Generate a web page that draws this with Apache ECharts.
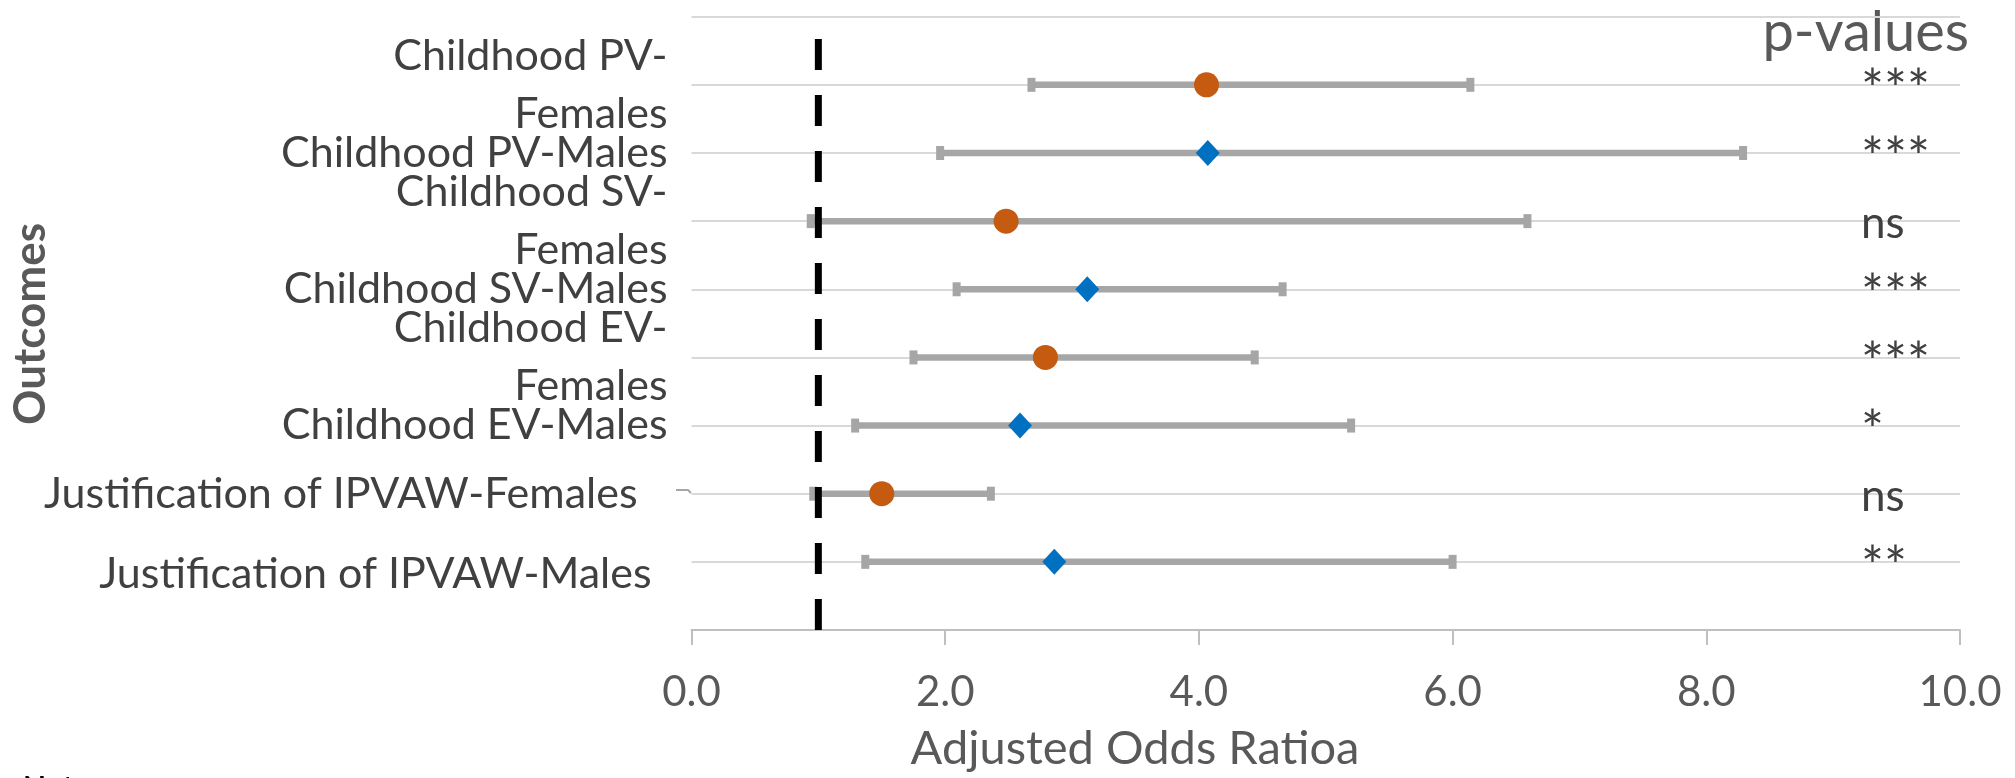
<!DOCTYPE html>
<html><head><meta charset="utf-8">
<script src="https://cdn.jsdelivr.net/npm/echarts@6/dist/echarts.min.js"></script>
<style>html,body{margin:0;padding:0;background:#fff}#c{width:2015px;height:778px}</style>
</head><body><div id="c"></div>
<script>
// ---- data ----
const categories = [
  'Childhood PV-\nFemales',
  'Childhood PV-Males',
  'Childhood SV-\nFemales',
  'Childhood SV-Males',
  'Childhood EV-\nFemales',
  'Childhood EV-Males',
  'Justification of IPVAW-Females',
  'Justification of IPVAW-Males'
];
const rowPositions = [8, 7, 6, 5, 4, 3, 2, 1];
const groups = ['Females', 'Males', 'Females', 'Males', 'Females', 'Males', 'Females', 'Males'];
const oddsRatios = [4.06, 4.07, 2.48, 3.12, 2.79, 2.59, 1.50, 2.86];
const ciLower   = [2.68, 1.96, 0.94, 2.09, 1.75, 1.29, 0.96, 1.37];
const ciUpper   = [6.14, 8.29, 6.59, 4.66, 4.44, 5.20, 2.36, 6.00];
const pValueLabels = ['***', '***', 'ns', '***', '***', '*', 'ns', '**'];
const referenceOR = 1;
const referenceSpan = [0, 9];
const pLabelX = 9.22;

// ---- styles ----
const FONT = 'Lato';
const orange = '#C55A11', blue = '#0070C0', barGray = '#A6A6A6';

const errData = categories.map((c, i) => [ciLower[i], ciUpper[i], rowPositions[i]]);
const femaleData = [], maleData = [];
categories.forEach((c, i) => {
  (groups[i] === 'Females' ? femaleData : maleData).push([oddsRatios[i], rowPositions[i]]);
});
const pData = pValueLabels.map((t, i) => [pLabelX, rowPositions[i], t]);

const chart = echarts.init(document.getElementById('c'), null, {renderer: 'canvas'});
chart.setOption({
  animation: false,
  backgroundColor: '#fff',
  grid: {left: 691.5, right: 55, top: 16.7, bottom: 148, containLabel: false, outerBoundsMode: 'none'},
  xAxis: {
    type: 'value', min: 0, max: 10, interval: 2,
    axisLine: {show: true, lineStyle: {color: '#BFBFBF', width: 2}},
    axisTick: {show: true, length: 15, lineStyle: {color: '#BFBFBF', width: 2}},
    splitLine: {show: false},
    axisLabel: {margin: 41, fontFamily: FONT, fontSize: 42, color: '#595959', formatter: v => v.toFixed(1)}
  },
  yAxis: {
    type: 'value', min: 0, max: 9, interval: 1,
    axisLine: {show: false}, axisTick: {show: false},
    splitLine: {show: true, lineStyle: {color: '#D9D9D9', width: 2}},
    axisLabel: {
      margin: 24, fontFamily: FONT, fontSize: 43, color: '#404040', lineHeight: 58,
      formatter: v => {
        const i = rowPositions.indexOf(v);
        if (i < 0) return '';
        const name = categories[i];
        let tag = 'c';
        if (name.startsWith('Justification')) tag = groups[i] === 'Males' ? 'm' : 'j';
        return name.split('\n').map(s => '{' + tag + '|' + s + '}').join('\n');
      },
      rich: {
        c: {fontFamily: FONT, fontSize: 43, color: '#404040', lineHeight: 58},
        j: {fontFamily: FONT, fontSize: 43, color: '#404040', lineHeight: 58, padding: [0, 30, 0, 0]},
        m: {fontFamily: FONT, fontSize: 43, color: '#404040', lineHeight: 58, padding: [24, 16, 0, 0]}
      }
    }
  },
  series: [
    {
      type: 'custom', name: 'CI', z: 2,
      encode: {x: [0, 1], y: 2},
      data: errData,
      renderItem: (params, api) => {
        const y = api.value(2);
        const lo = api.coord([api.value(0), y]);
        const hi = api.coord([api.value(1), y]);
        const st = {stroke: barGray, lineWidth: 6.5};
        const cap = {stroke: barGray, lineWidth: 8};
        return {type: 'group', children: [
          {type: 'line', shape: {x1: lo[0], y1: lo[1], x2: hi[0], y2: hi[1]}, style: st},
          {type: 'line', shape: {x1: lo[0], y1: lo[1] - 7, x2: lo[0], y2: lo[1] + 7}, style: cap},
          {type: 'line', shape: {x1: hi[0], y1: hi[1] - 7, x2: hi[0], y2: hi[1] + 7}, style: cap}
        ]};
      }
    },
    {
      type: 'line', name: 'Reference', z: 3, symbol: 'none',
      data: [[referenceOR, referenceSpan[0]], [referenceOR, referenceSpan[1]]],
      lineStyle: {color: '#000', width: 7, type: [31, 25], cap: 'butt'}
    },
    {
      type: 'scatter', name: 'Females', z: 5, symbol: 'circle', symbolSize: 25,
      itemStyle: {color: orange, opacity: 1}, data: femaleData
    },
    {
      type: 'scatter', name: 'Males', z: 5, symbol: 'diamond', symbolSize: [24, 26],
      itemStyle: {color: blue, opacity: 1}, data: maleData
    },
    {
      type: 'custom', name: 'p', z: 6,
      encode: {x: 0, y: 1},
      data: pData,
      renderItem: (params, api) => {
        const p = api.coord([api.value(0), api.value(1)]);
        const t = pValueLabels[params.dataIndex];
        const star = t.indexOf('*') >= 0;
        return {type: 'text', x: p[0], y: p[1] + (star ? 6 : 3), style: {
          text: t, font: (star ? 54 : 44) + 'px ' + FONT, fill: '#404040',
          align: 'left', verticalAlign: 'middle', textAlign: 'left', textVerticalAlign: 'middle'
        }};
      }
    }
  ],
  graphic: [
    {type: 'text', x: 31, y: 324, rotation: Math.PI / 2, style: {
      text: 'Outcomes', font: 'bold 44px ' + FONT, fill: '#595959',
      align: 'center', verticalAlign: 'middle', textAlign: 'center', textVerticalAlign: 'middle'}},
    {type: 'text', x: 1135, y: 749, style: {
      text: 'Adjusted Odds Ratioa', font: '47px ' + FONT, fill: '#595959',
      align: 'center', verticalAlign: 'middle', textAlign: 'center', textVerticalAlign: 'middle'}},
    {type: 'text', x: 1969, y: 33, style: {
      text: 'p-values', font: '56px ' + FONT, fill: '#595959',
      align: 'right', verticalAlign: 'middle', textAlign: 'right', textVerticalAlign: 'middle'}},
    {type: 'text', x: 23, y: 773, style: {
      text: 'Note', font: 'bold 30px ' + FONT, fill: '#000',
      align: 'left', verticalAlign: 'top', textAlign: 'left', textVerticalAlign: 'top'}},
    {type: 'polyline', shape: {points: [[676, 490], [688, 490], [691, 493]]},
      style: {stroke: '#A6A6A6', lineWidth: 2, fill: null}}
  ]
});
</script></body></html>
